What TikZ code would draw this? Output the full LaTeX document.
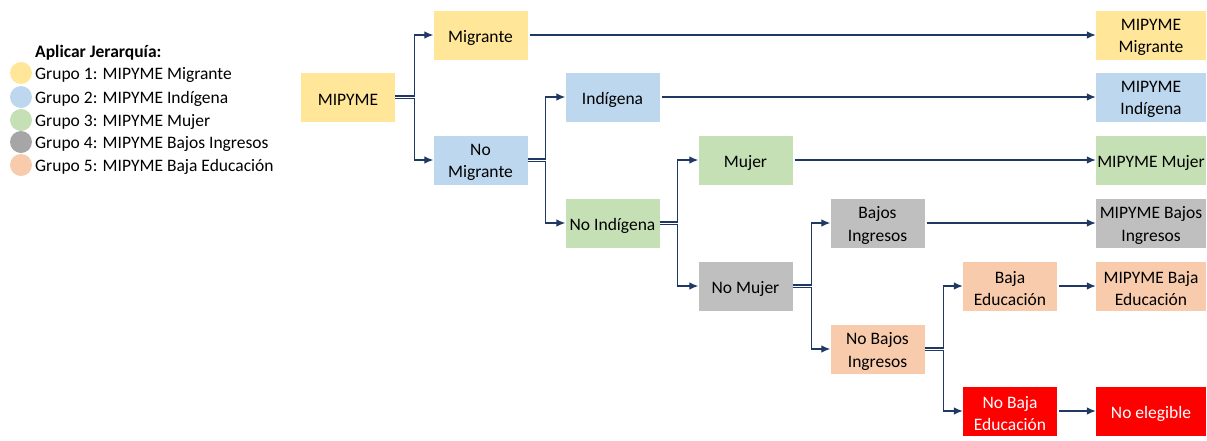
\documentclass[tikz,border=0pt]{standalone}
\usepackage{fontspec}
\setmainfont{Carlito}
\usetikzlibrary{arrows.meta,calc}
\definecolor{yel}{HTML}{FFE699}
\definecolor{blu}{HTML}{BDD7EE}
\definecolor{grn}{HTML}{C5E0B4}
\definecolor{gry}{HTML}{BFBFBF}
\definecolor{gryc}{HTML}{A6A6A6}
\definecolor{org}{HTML}{F8CBAD}
\definecolor{rd}{HTML}{FF0000}
\definecolor{navy}{HTML}{1F3864}
\begin{document}
\begin{tikzpicture}[x=1pt,y=-1pt,
  box/.style={inner sep=0pt, minimum width=94pt, minimum height=49pt},
  fbox/.style={box, minimum width=110pt},
  lbl/.style={inner sep=0pt, align=center, yshift=-2.5pt,
    font=\fontsize{17.5}{22.7}\selectfont},
  wlbl/.style={lbl, text=white},
  conn/.style={draw=navy, line width=1.2pt, -{Latex[length=9pt,width=7.5pt]}},
  leg/.style={anchor=west, inner sep=0pt, yshift=-1.5pt, font=\fontsize{17.5}{20}\selectfont},
  dot/.style={circle, inner sep=0pt, minimum size=22pt}]
\useasboundingbox (0,0) rectangle (1207,440);
% legend
\node[leg, font=\fontsize{17.5}{20}\selectfont\bfseries] (lt) at (35,51) {Aplicar Jerarquía:};
\node[dot, fill=yel] (c1) at (21,73) {};
\node[dot, fill=blu] (c2) at (21,97) {};
\node[dot, fill=grn] (c3) at (21,120) {};
\node[dot, fill=gryc] (c4) at (21,142) {};
\node[dot, fill=org] (c5) at (21,165) {};
\node[leg] (l1) at (35,73) {Grupo 1: MIPYME Migrante};
\node[leg] (l2) at (35,97) {Grupo 2: MIPYME Indígena};
\node[leg] (l3) at (35,120) {Grupo 3: MIPYME Mujer};
\node[leg] (l4) at (35,142) {Grupo 4: MIPYME Bajos Ingresos};
\node[leg] (l5) at (35,165) {Grupo 5: MIPYME Baja Educación};
% tree nodes
\node[box, fill=yel, label={[lbl]center:MIPYME}] (mip) at (348,97) {};
\node[box, fill=yel, label={[lbl]center:Migrante}] (mig) at (480.5,35) {};
\node[box, fill=blu, label={[lbl]center:No\\Migrante}] (nmig) at (480.5,160) {};
\node[box, fill=blu, label={[lbl]center:Indígena}] (ind) at (612.5,97) {};
\node[box, fill=grn, label={[lbl]center:No Indígena}] (nind) at (612.5,223) {};
\node[box, fill=grn, label={[lbl]center:Mujer}] (muj) at (745.5,160) {};
\node[box, fill=gry, label={[lbl]center:No Mujer}] (nmuj) at (745.5,286) {};
\node[box, fill=gry, label={[lbl]center:Bajos\\Ingresos}] (baj) at (877.5,223) {};
\node[box, fill=org, label={[lbl]center:No Bajos\\Ingresos}] (nbaj) at (877.5,349) {};
\node[box, fill=org, label={[lbl]center:Baja\\Educación}] (edu) at (1010,286) {};
\node[box, fill=rd, label={[wlbl]center:No Baja\\Educación}] (nedu) at (1010,411) {};
% final nodes
\node[fbox, fill=yel, label={[lbl]center:MIPYME\\Migrante}] (f1) at (1151,35) {};
\node[fbox, fill=blu, label={[lbl]center:MIPYME\\Indígena}] (f2) at (1151,97) {};
\node[fbox, fill=grn, label={[lbl]center:MIPYME Mujer}] (f3) at (1151,160) {};
\node[fbox, fill=gry, label={[lbl]center:MIPYME Bajos\\Ingresos}] (f4) at (1151,223) {};
\node[fbox, fill=org, label={[lbl]center:MIPYME Baja\\Educación}] (f5) at (1151,286) {};
\node[fbox, fill=rd, label={[wlbl]center:No elegible}] (f6) at (1151,411) {};
% branching connectors
\draw[conn] ([yshift=1.1pt]mip.east) -- ++(19,0) |- (mig.west);
\draw[conn] ([yshift=-1.1pt]mip.east) -- ++(19,0) |- (nmig.west);
\draw[conn] ([yshift=1.1pt]nmig.east) -- ++(18,0) |- (ind.west);
\draw[conn] ([yshift=-1.1pt]nmig.east) -- ++(18,0) |- (nind.west);
\draw[conn] ([yshift=1.1pt]nind.east) -- ++(18,0) |- (muj.west);
\draw[conn] ([yshift=-1.1pt]nind.east) -- ++(18,0) |- (nmuj.west);
\draw[conn] ([yshift=1.1pt]nmuj.east) -- ++(19,0) |- (baj.west);
\draw[conn] ([yshift=-1.1pt]nmuj.east) -- ++(19,0) |- (nbaj.west);
\draw[conn] ([yshift=1.1pt]nbaj.east) -- ++(19,0) |- (edu.west);
\draw[conn] ([yshift=-1.1pt]nbaj.east) -- ++(19,0) |- (nedu.west);
% straight connectors
\draw[conn] ([xshift=2pt]mig.east) -- (f1.west);
\draw[conn] ([xshift=2pt]ind.east) -- (f2.west);
\draw[conn] ([xshift=2pt]muj.east) -- (f3.west);
\draw[conn] ([xshift=2pt]baj.east) -- (f4.west);
\draw[conn] ([xshift=2pt]edu.east) -- (f5.west);
\draw[conn] ([xshift=2pt]nedu.east) -- (f6.west);
\end{tikzpicture}
\end{document}
